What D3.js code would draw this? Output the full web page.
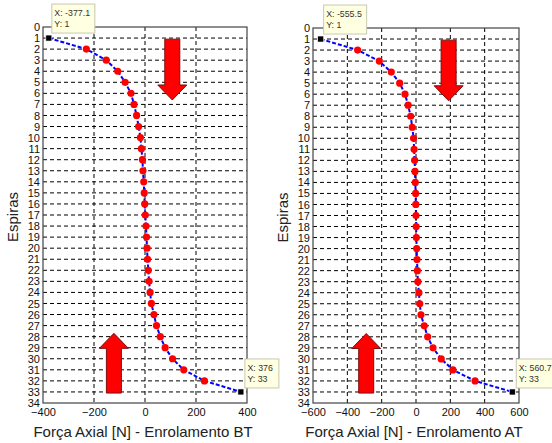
<!DOCTYPE html>
<html>
<head>
<meta charset="utf-8">
<script src="https://cdn.jsdelivr.net/npm/d3@7.9.0/dist/d3.min.js"></script>
<style>
  body { margin: 0; background: #fff; }
  text { font-family: "Liberation Sans", Arial, sans-serif; }
</style>
</head>
<body>
<svg id="chart" width="552" height="443"></svg>
<script>
// espiras (turns) 1..33
const turns = d3.range(1, 34);
// axial force per turn [N], winding BT (left) and AT (right)
const forceBT = [-377.1, -230, -152, -107, -78, -55, -43, -33, -25, -18, -14, -10, -8, -5, -3, -1, 1,
  4, 6, 8, 10, 13, 16, 20, 25, 35, 45, 60, 79, 108, 152, 233, 376];
const forceAT = [-555.5, -340, -214, -144, -95, -64, -46, -31, -22, -14, -11, -8, -6, -4, -2, -1, 0,
  1, 2, 4, 6, 8, 11, 17, 22, 29, 48, 68, 99, 147, 215, 344, 560.7];
const yTicks = d3.range(0, 35);
const xTicksBT = [-400, -200, 0, 200, 400];
const xTicksAT = [-600, -400, -200, 0, 200, 400, 600];

const svg = d3.select('#chart');

function drawPanel(opts) {
  const { left, right, top, bottom, domain, xticks, values, xlabel, arrows, tipW } = opts;
  const x = d3.scaleLinear().domain(domain).range([left, right]);
  const y = d3.scaleLinear().domain([0, 34]).range([top, bottom]);
  const g = svg.append('g');

  // grid
  g.selectAll('line.hg').data(yTicks.slice(1, -1)).join('line')
    .attr('x1', left).attr('x2', right)
    .attr('y1', d => y(d)).attr('y2', d => y(d))
    .attr('stroke', '#000').attr('stroke-width', 1).attr('stroke-dasharray', '4,3');
  g.selectAll('line.vg').data(xticks.slice(1, -1)).join('line')
    .attr('y1', top).attr('y2', bottom)
    .attr('x1', d => x(d)).attr('x2', d => x(d))
    .attr('stroke', '#000').attr('stroke-width', 1).attr('stroke-dasharray', '4,3');

  // axes
  const ax = d3.axisBottom(x).tickValues(xticks).tickSize(0).tickPadding(5);
  const xg = g.append('g').attr('transform', `translate(0,${bottom})`).call(ax);
  xg.select('.domain').remove();
  xg.selectAll('text').attr('font-size', 11).attr('fill', '#111');
  const ay = d3.axisLeft(y).tickValues(yTicks).tickSize(0).tickPadding(3);
  const yg = g.append('g').attr('transform', `translate(${left},0)`).call(ay);
  yg.select('.domain').remove();
  yg.selectAll('text').attr('font-size', 11).attr('fill', '#111');

  g.append('rect').attr('x', left).attr('y', top)
    .attr('width', right - left).attr('height', bottom - top)
    .attr('fill', 'none').attr('stroke', '#444').attr('stroke-width', 1.2);

  // arrows
  arrows.forEach(a => {
    const cx = x(a.x), y0 = y(a.from), y1 = y(a.to);
    const dir = y1 > y0 ? 1 : -1;
    const hb = y1 - dir * 15;
    const pts = [[cx - 7.5, y0], [cx + 7.5, y0], [cx + 7.5, hb], [cx + 14.5, hb], [cx, y1],
      [cx - 14.5, hb], [cx - 7.5, hb]];
    g.append('path').attr('d', d3.line()(pts) + 'Z')
      .attr('fill', '#ff0000').attr('stroke', '#7a1010').attr('stroke-width', 1);
  });

  // curve
  const line = d3.line().x(d => x(d[1])).y(d => y(d[0]));
  const pts = turns.map((t, i) => [t, values[i]]);
  g.append('path').datum(pts).attr('d', line)
    .attr('fill', 'none').attr('stroke', '#0000ff').attr('stroke-width', 2)
    .attr('stroke-dasharray', '4,2');
  g.selectAll('circle').data(pts.slice(1, -1)).join('circle')
    .attr('cx', d => x(d[1])).attr('cy', d => y(d[0])).attr('r', 3.6)
    .attr('fill', '#ff0000');

  // datatips at first and last turns
  [pts[0], pts[pts.length - 1]].forEach((p, k) => {
    const mx = x(p[1]), my = y(p[0]);
    g.append('rect').attr('x', mx - 3).attr('y', my - 3).attr('width', 6).attr('height', 6)
      .attr('fill', '#000').attr('stroke', '#fff').attr('stroke-width', 0.6);
    const bw = tipW[k], bh = 29;
    const bx = k === 0 ? mx + 3 : mx + 4;
    const by = k === 0 ? my - 34 : my - 33;
    const tg = g.append('g');
    tg.append('rect').attr('x', bx).attr('y', by).attr('width', bw).attr('height', bh)
      .attr('fill', '#ffffe1').attr('stroke', '#c8c8b4').attr('stroke-width', 1);
    tg.append('text').attr('x', bx + 2.5).attr('y', by + 12).attr('font-size', 8.8)
      .attr('fill', '#333').text(`X: ${p[1]}`);
    tg.append('text').attr('x', bx + 2.5).attr('y', by + 23).attr('font-size', 8.8)
      .attr('fill', '#333').text(`Y: ${p[0]}`);
  });

  // labels
  svg.append('text').attr('x', (left + right) / 2 - 2).attr('y', 437)
    .attr('text-anchor', 'middle').attr('font-size', 15).attr('fill', '#222').text(xlabel);
  svg.append('text').attr('transform', `translate(${left - 25},${(top + bottom) / 2 + 2}) rotate(-90)`)
    .attr('text-anchor', 'middle').attr('font-size', 15).attr('fill', '#222').text('Espiras');
}

drawPanel({
  left: 43, right: 247, top: 27, bottom: 403,
  domain: [-400, 400], xticks: xTicksBT, values: forceBT,
  xlabel: 'Força Axial [N] - Enrolamento BT',
  arrows: [{ x: 107, from: 1.1, to: 6.6 }, { x: -122, from: 33.1, to: 27.7 }],
  tipW: [43, 34]
});
drawPanel({
  left: 313, right: 519, top: 28, bottom: 403,
  domain: [-600, 600], xticks: xTicksAT, values: forceAT,
  xlabel: 'Força Axial [N] - Enrolamento AT',
  arrows: [{ x: 190, from: 1.1, to: 6.6 }, { x: -290, from: 33.1, to: 27.7 }],
  tipW: [43, 40]
});
</script>
</body>
</html>
